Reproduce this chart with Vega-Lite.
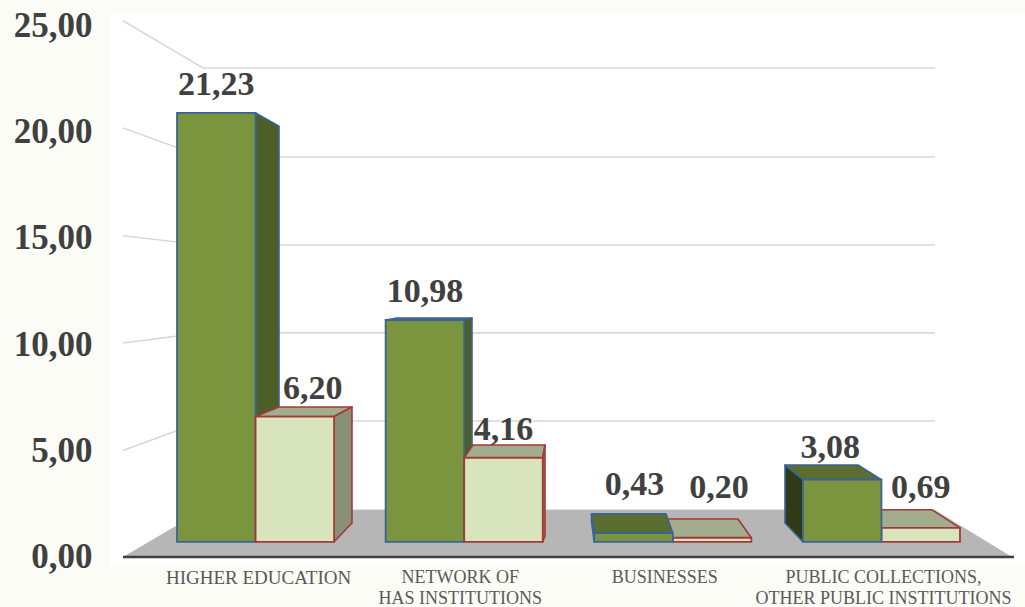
{
"$schema":"https://vega.github.io/schema/vega-lite/v6.json",
"width":1025,"height":607,"padding":0,"autosize":{"type":"none"},
"background":"#fbfcf6",
"config":{"view":{"stroke":null}},
"datasets":{
"bars":[
{"category":"HIGHER EDUCATION","series":"A","value":21.23,"label":"21,23"},
{"category":"HIGHER EDUCATION","series":"B","value":6.20,"label":"6,20"},
{"category":"NETWORK OF HAS INSTITUTIONS","series":"A","value":10.98,"label":"10,98"},
{"category":"NETWORK OF HAS INSTITUTIONS","series":"B","value":4.16,"label":"4,16"},
{"category":"BUSINESSES","series":"A","value":0.43,"label":"0,43"},
{"category":"BUSINESSES","series":"B","value":0.20,"label":"0,20"},
{"category":"PUBLIC COLLECTIONS, OTHER PUBLIC INSTITUTIONS","series":"A","value":3.08,"label":"3,08"},
{"category":"PUBLIC COLLECTIONS, OTHER PUBLIC INSTITUTIONS","series":"B","value":0.69,"label":"0,69"}
],
"faces":[
{"face":"A1 side","part":"A side","series":"A","stage":1,"x":255.6,"y":21.23,"y2":0},
{"face":"A1 side","part":"A side","series":"A","stage":1,"x":279,"y":20.58,"y2":0.93},
{"face":"A2 top","part":"A top","series":"A","stage":1,"x":385.6,"y":10.98,"y2":10.98},
{"face":"A2 top","part":"A top","series":"A","stage":1,"x":397,"y":11.08,"y2":10.98},
{"face":"A2 top","part":"A top","series":"A","stage":1,"x":464.1,"y":11.08,"y2":10.98},
{"face":"A2 top","part":"A top","series":"A","stage":1,"x":472,"y":11.08,"y2":11.08},
{"face":"A2 side","part":"A side","series":"A","stage":1,"x":464.1,"y":10.98,"y2":0},
{"face":"A2 side","part":"A side","series":"A","stage":1,"x":472,"y":11.08,"y2":0.44},
{"face":"B3 top","part":"B top","series":"B","stage":1,"x":666,"y":1.13,"y2":1.13},
{"face":"B3 top","part":"B top","series":"B","stage":1,"x":672.8,"y":1.13,"y2":0.20},
{"face":"B3 top","part":"B top","series":"B","stage":1,"x":738,"y":1.13,"y2":0.20},
{"face":"B3 top","part":"B top","series":"B","stage":1,"x":751.3,"y":0.20,"y2":0.20},
{"face":"B4 top","part":"B top","series":"B","stage":1,"x":860,"y":1.59,"y2":1.59},
{"face":"B4 top","part":"B top","series":"B","stage":1,"x":881.4,"y":1.59,"y2":0.69},
{"face":"B4 top","part":"B top","series":"B","stage":1,"x":931.7,"y":1.59,"y2":0.69},
{"face":"B4 top","part":"B top","series":"B","stage":1,"x":960,"y":0.69,"y2":0.69},
{"face":"B1 top","part":"B top","series":"B","stage":2,"x":255.6,"y":6.20,"y2":6.20},
{"face":"B1 top","part":"B top","series":"B","stage":2,"x":279,"y":6.67,"y2":6.20},
{"face":"B1 top","part":"B top","series":"B","stage":2,"x":334.1,"y":6.67,"y2":6.20},
{"face":"B1 top","part":"B top","series":"B","stage":2,"x":352,"y":6.67,"y2":6.67},
{"face":"B1 side","part":"B side","series":"B","stage":2,"x":334.1,"y":6.20,"y2":0},
{"face":"B1 side","part":"B side","series":"B","stage":2,"x":352,"y":6.67,"y2":0.93},
{"face":"B2 top","part":"B top","series":"B","stage":2,"x":464.1,"y":4.16,"y2":4.16},
{"face":"B2 top","part":"B top","series":"B","stage":2,"x":473,"y":4.79,"y2":4.16},
{"face":"B2 top","part":"B top","series":"B","stage":2,"x":542.7,"y":4.79,"y2":4.16},
{"face":"B2 top","part":"B top","series":"B","stage":2,"x":545,"y":4.79,"y2":4.79},
{"face":"B2 side","part":"B side","series":"B","stage":2,"x":542.7,"y":4.16,"y2":0},
{"face":"B2 side","part":"B side","series":"B","stage":2,"x":545,"y":4.79,"y2":0.29},
{"face":"A3 top","part":"A top","series":"A","stage":2,"x":591.5,"y":1.38,"y2":1.38},
{"face":"A3 top","part":"A top","series":"A","stage":2,"x":594.2,"y":1.38,"y2":0.43},
{"face":"A3 top","part":"A top","series":"A","stage":2,"x":666,"y":1.38,"y2":0.43},
{"face":"A3 top","part":"A top","series":"A","stage":2,"x":672.8,"y":0.43,"y2":0.43},
{"face":"A3 left","part":"A left","series":"A","stage":2,"x":591.5,"y":1.38,"y2":0.98},
{"face":"A3 left","part":"A left","series":"A","stage":2,"x":594.2,"y":0.43,"y2":0},
{"face":"A4 top","part":"A top","series":"A","stage":2,"x":785,"y":3.80,"y2":3.80},
{"face":"A4 top","part":"A top","series":"A","stage":2,"x":802.8,"y":3.80,"y2":3.08},
{"face":"A4 top","part":"A top","series":"A","stage":2,"x":858,"y":3.80,"y2":3.08},
{"face":"A4 top","part":"A top","series":"A","stage":2,"x":881.4,"y":3.08,"y2":3.08},
{"face":"A4 left","part":"A left","series":"A","stage":2,"x":785,"y":3.80,"y2":0.93},
{"face":"A4 left","part":"A left","series":"A","stage":2,"x":802.8,"y":3.08,"y2":0}
],
"wall":[
{"tick":25,"x":123,"y":25.2},{"tick":25,"x":203,"y":22.98},{"tick":25,"x":935,"y":22.98},
{"tick":20,"x":123,"y":20.16},{"tick":20,"x":203,"y":18.80},{"tick":20,"x":935,"y":18.80},
{"tick":15,"x":123,"y":15.1},{"tick":15,"x":203,"y":14.66},{"tick":15,"x":935,"y":14.66},
{"tick":10,"x":123,"y":10.06},{"tick":10,"x":203,"y":10.53},{"tick":10,"x":935,"y":10.53},
{"tick":5,"x":123,"y":5},{"tick":5,"x":203,"y":6.39},{"tick":5,"x":935,"y":6.39},
{"tick":0,"x":203,"y":2.21},{"tick":0,"x":935,"y":2.21}
],
"floor":[
{"x":123,"y":0,"y2":0},{"x":203,"y":2.21,"y2":0},{"x":935,"y":2.21,"y2":0},{"x":1012,"y":0,"y2":0}
],
"panel":[{"x":110,"x2":1025,"y":-0.376,"y2":25.56}],
"base":[{"x":123,"y":0},{"x":1014,"y":0}]
},
"resolve":{"scale":{"x":"independent","y":"independent","xOffset":"independent","fill":"independent","stroke":"independent"},"axis":{"x":"independent","y":"independent"}},
"layer":[
{"data":{"name":"panel"},"mark":{"type":"rect","fill":"#ffffff"},
 "encoding":{
  "x":{"field":"x","type":"quantitative","axis":null,"scale":{"domain":[0,1025],"nice":false,"zero":false}},
  "x2":{"field":"x2"},
  "y":{"field":"y","type":"quantitative","axis":null,"scale":{"domain":[-2.35,26.175],"nice":false,"zero":false}},
  "y2":{"field":"y2"}}},
{"data":{"name":"wall"},"mark":{"type":"line","stroke":"#d9d9d9","strokeWidth":1.6},
 "encoding":{
  "x":{"field":"x","type":"quantitative","axis":null,"scale":{"domain":[0,1025],"nice":false,"zero":false}},
  "y":{"field":"y","type":"quantitative","scale":{"domain":[-2.35,26.175],"nice":false,"zero":false},
   "axis":{"title":null,"orient":"left","offset":-92,"values":[0,5,10,15,20,25],"domain":false,"ticks":false,"grid":false,"labelPadding":0,"labelFont":"Liberation Serif","labelFontWeight":"bold","labelFontSize":35,"labelColor":"#404040","labelExpr":"replace(format(datum.value,'.2f'),'.',',')","labelOverlap":false,"labelBound":false,"labelFlush":false,"zindex":1}},
  "detail":{"field":"tick","type":"nominal"}}},
{"data":{"name":"floor"},"mark":{"type":"area","fill":"#b6b6b6"},
 "encoding":{
  "x":{"field":"x","type":"quantitative","axis":null,"scale":{"domain":[0,1025],"nice":false,"zero":false}},
  "y":{"field":"y","type":"quantitative","axis":null,"scale":{"domain":[-2.35,26.175],"nice":false,"zero":false}},
  "y2":{"field":"y2"}}},
{"data":{"name":"base"},"mark":{"type":"line","stroke":"#404040","strokeWidth":2.6},
 "encoding":{
  "x":{"field":"x","type":"quantitative","axis":null,"scale":{"domain":[0,1025],"nice":false,"zero":false}},
  "y":{"field":"y","type":"quantitative","axis":null,"scale":{"domain":[-2.35,26.175],"nice":false,"zero":false}}}},
{"data":{"name":"faces"},"transform":[{"filter":"datum.stage==1"}],"mark":{"type":"area","strokeWidth":1.6,"strokeJoin":"round"},
 "encoding":{
  "x":{"field":"x","type":"quantitative","axis":null,"scale":{"domain":[0,1025],"nice":false,"zero":false}},
  "y":{"field":"y","type":"quantitative","axis":null,"scale":{"domain":[-3.228,26.822],"nice":false,"zero":false}},
  "y2":{"field":"y2"},
  "detail":{"field":"face","type":"nominal"},
  "fill":{"field":"part","type":"nominal","legend":null,"scale":{"domain":["A side","A top","A left","B side","B top"],"range":["#4d5e27","#5a6f2f","#2f3a17","#8a9078","#a2ad8d"]}},
  "stroke":{"field":"series","type":"nominal","legend":null,"scale":{"domain":["A","B"],"range":["#3a6399","#a5383a"]}}}},
{"data":{"name":"bars"},"transform":[{"filter":{"field":"value","oneOf":[21.23,10.98,0.20,0.69]}}],"mark":{"type":"bar","strokeWidth":1.8},
 "encoding":{
  "x":{"field":"category","type":"nominal","sort":null,"scale":{"domain":["HIGHER EDUCATION","NETWORK OF HAS INSTITUTIONS","BUSINESSES","PUBLIC COLLECTIONS, OTHER PUBLIC INSTITUTIONS"],"range":[151.25,985.75],"paddingInner":0.247,"paddingOuter":0.1235},
   "axis":{"title":null,"orient":"bottom","offset":-39,"domain":false,"ticks":false,"grid":false,"labelAngle":0,"labelPadding":0,"labelBaseline":"top","labelFont":"Liberation Serif","labelColor":"#595959","labelLineHeight":21,"labelOverlap":false,"labelBound":false,"labelFlush":false,"labelLimit":400,"zindex":1,
   "labelFontSize":{"condition":{"test":"datum.value=='HIGHER EDUCATION'","value":19},"value":18},
   "labelOffset":{"condition":[{"test":"datum.value=='HIGHER EDUCATION'","value":3},{"test":"datum.value=='NETWORK OF HAS INSTITUTIONS'","value":-4},{"test":"datum.value=='BUSINESSES'","value":-8}],"value":2},
   "labelExpr":"datum.value=='NETWORK OF HAS INSTITUTIONS'?['NETWORK OF','HAS INSTITUTIONS']:datum.value=='PUBLIC COLLECTIONS, OTHER PUBLIC INSTITUTIONS'?['PUBLIC COLLECTIONS,','OTHER PUBLIC INSTITUTIONS']:datum.value"}},
  "xOffset":{"field":"series","type":"nominal","scale":{"domain":["A","B"]}},
  "y":{"field":"value","type":"quantitative","stack":null,"axis":null,"scale":{"domain":[-3.228,26.822],"nice":false,"zero":false}},
  "fill":{"field":"series","type":"nominal","legend":null,"scale":{"domain":["A","B"],"range":["#7a953d","#d8e4bc"]}},
  "stroke":{"field":"series","type":"nominal","legend":null,"scale":{"domain":["A","B"],"range":["#3a6399","#a5383a"]}}}},
{"data":{"name":"faces"},"transform":[{"filter":"datum.stage==2"}],"mark":{"type":"area","strokeWidth":1.6,"strokeJoin":"round"},
 "encoding":{
  "x":{"field":"x","type":"quantitative","axis":null,"scale":{"domain":[0,1025],"nice":false,"zero":false}},
  "y":{"field":"y","type":"quantitative","axis":null,"scale":{"domain":[-3.228,26.822],"nice":false,"zero":false}},
  "y2":{"field":"y2"},
  "detail":{"field":"face","type":"nominal"},
  "fill":{"field":"part","type":"nominal","legend":null,"scale":{"domain":["A side","A top","A left","B side","B top"],"range":["#4d5e27","#5a6f2f","#2f3a17","#8a9078","#a2ad8d"]}},
  "stroke":{"field":"series","type":"nominal","legend":null,"scale":{"domain":["A","B"],"range":["#3a6399","#a5383a"]}}}},
{"data":{"name":"bars"},"transform":[{"filter":{"field":"value","oneOf":[6.20,4.16,0.43,3.08]}}],"mark":{"type":"bar","strokeWidth":1.8},
 "encoding":{
  "x":{"field":"category","type":"nominal","sort":null,"axis":null,"scale":{"domain":["HIGHER EDUCATION","NETWORK OF HAS INSTITUTIONS","BUSINESSES","PUBLIC COLLECTIONS, OTHER PUBLIC INSTITUTIONS"],"range":[151.25,985.75],"paddingInner":0.247,"paddingOuter":0.1235}},
  "xOffset":{"field":"series","type":"nominal","scale":{"domain":["A","B"]}},
  "y":{"field":"value","type":"quantitative","stack":null,"axis":null,"scale":{"domain":[-3.228,26.822],"nice":false,"zero":false}},
  "fill":{"field":"series","type":"nominal","legend":null,"scale":{"domain":["A","B"],"range":["#7a953d","#d8e4bc"]}},
  "stroke":{"field":"series","type":"nominal","legend":null,"scale":{"domain":["A","B"],"range":["#3a6399","#a5383a"]}}}},
{"data":{"name":"bars"},"layer":[
 {"transform":[{"filter":{"field":"value","oneOf":[21.23,10.98,4.16]}}],"mark":{"type":"text","dy":-18,"baseline":"alphabetic","font":"Liberation Serif","fontWeight":"bold","fontSize":34,"color":"#404040"}},
 {"transform":[{"filter":{"field":"value","equal":6.20}}],"mark":{"type":"text","dx":18,"dy":-18,"baseline":"alphabetic","font":"Liberation Serif","fontWeight":"bold","fontSize":34,"color":"#404040"}},
 {"transform":[{"filter":{"field":"value","equal":0.43}}],"mark":{"type":"text","dx":1,"dy":-38,"baseline":"alphabetic","font":"Liberation Serif","fontWeight":"bold","fontSize":34,"color":"#404040"}},
 {"transform":[{"filter":{"field":"value","equal":0.20}}],"mark":{"type":"text","dx":7,"dy":-40,"baseline":"alphabetic","font":"Liberation Serif","fontWeight":"bold","fontSize":34,"color":"#404040"}},
 {"transform":[{"filter":{"field":"value","equal":3.08}}],"mark":{"type":"text","dx":-12,"dy":-22,"baseline":"alphabetic","font":"Liberation Serif","fontWeight":"bold","fontSize":34,"color":"#404040"}},
 {"transform":[{"filter":{"field":"value","equal":0.69}}],"mark":{"type":"text","dy":-30,"baseline":"alphabetic","font":"Liberation Serif","fontWeight":"bold","fontSize":34,"color":"#404040"}}
 ],
 "encoding":{
  "x":{"field":"category","type":"nominal","sort":null,"axis":null,"scale":{"domain":["HIGHER EDUCATION","NETWORK OF HAS INSTITUTIONS","BUSINESSES","PUBLIC COLLECTIONS, OTHER PUBLIC INSTITUTIONS"],"range":[151.25,985.75],"paddingInner":0.247,"paddingOuter":0.1235}},
  "xOffset":{"field":"series","type":"nominal","scale":{"domain":["A","B"]}},
  "y":{"field":"value","type":"quantitative","stack":null,"axis":null,"scale":{"domain":[-3.228,26.822],"nice":false,"zero":false}},
  "text":{"field":"label","type":"nominal"}}}
]
}
